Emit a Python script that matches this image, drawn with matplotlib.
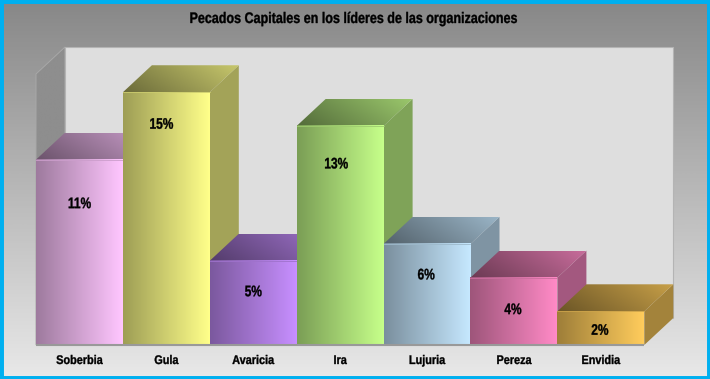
from matplotlib import pyplot as plt
from matplotlib.patches import Polygon
from matplotlib.colors import LinearSegmentedColormap, to_rgb
from matplotlib.patheffects import AbstractPathEffect
from matplotlib.transforms import Affine2D
import numpy as np

categories = ['Soberbia', 'Gula', 'Avaricia', 'Ira', 'Lujuria', 'Pereza', 'Envidia']
values = [11, 15, 5, 13, 6, 4, 2]
colors = ['#ffc6ff', '#ffff8a', '#c78fff', '#c6ff8a', '#c6e8ff', '#ff8ac6', '#ffcc5c']
title = 'Pecados Capitales en los líderes de las organizaciones'

# px per unit, the whole figure is one axes
W, H = 710, 379
x_px = 86.9
y_px = 16.85
x0, y0 = 36, 345
dx = 29 / x_px
dy = 27 / y_px
wall_top = (y0 - 47) / y_px - dy
label_drop = [44.5, 32.5, 31.5, 38.5, 31.5, 32.5, 19.5]
label_shift = [0, -5, 0, -4, -1, -1, -1]

plt.rcParams['font.family'] = ['Liberation Sans', 'DejaVu Sans']


class Narrow(AbstractPathEffect):
    # the original font is condensed, squeeze the glyphs around their middle
    def __init__(self, sx):
        super().__init__()
        self.sx = sx

    def draw_path(self, renderer, gc, tpath, affine, rgbFace=None):
        ext = tpath.get_extents()
        mid = (ext.x0 + ext.x1) / 2
        t = Affine2D().translate(-mid, 0).scale(self.sx, 1).translate(mid, 0)
        gc0 = renderer.new_gc()
        gc0.copy_properties(gc)
        gc0.set_linewidth(0.25)
        renderer.draw_path(gc0, tpath, t + affine, rgbFace)
        gc0.restore()


fig = plt.figure(figsize=(W / 100, H / 100), dpi=100)
ax = fig.add_axes([0, 0, 1, 1])
ax.set_xlim(-x0 / x_px, (W - x0) / x_px)
ax.set_ylim((y0 - H) / y_px, y0 / y_px)
ax.set_aspect('auto')
ax.axis('off')
xl, xr = ax.get_xlim()
yb, yt = ax.get_ylim()


def shade(c, f):
    return tuple(v * f for v in to_rgb(c))


def grad(c1, c2, extent, vertical=False, diag=False, clip=None, z=1):
    cm = LinearSegmentedColormap.from_list('g', [c1, c2])
    n = 64
    if diag:
        a, b = np.meshgrid(np.linspace(0, 1, n), np.linspace(0, 1, n))
        img = (a + b * 0.35) / 1.35
    elif vertical:
        img = np.linspace(0, 1, n).reshape(n, 1)
    else:
        img = np.linspace(0, 1, n).reshape(1, n)
    im = ax.imshow(img, extent=extent, cmap=cm, origin='lower', aspect='auto',
                   interpolation='bilinear', zorder=z, vmin=0, vmax=1)
    if clip is not None:
        p = Polygon(clip, closed=True, transform=ax.transData, fc='none', ec='none')
        ax.add_patch(p)
        im.set_clip_path(p)
    return im


# background, lighter to the bottom
grad('#e8e8e8', '#888888', [xl, xr, yb, yt], vertical=True, z=0)

n = len(values)
# left wall and back wall
left = [(0, 0), (dx, dy), (dx, wall_top + dy), (0, wall_top)]
grad('#8e8e8e', '#8e8e8e', [0, dx, 0, wall_top + dy], clip=left, z=1)
ax.add_patch(Polygon(left, closed=True, fc='none', ec='#a8a8a8', lw=0.7, zorder=1.1))
ax.add_patch(Polygon([(dx, dy), (n + dx, dy), (n + dx, wall_top + dy), (dx, wall_top + dy)],
                     closed=True, fc='#dedede', ec='#b4b4b4', lw=0.8, zorder=1.2))
# floor
ax.add_patch(Polygon([(0, 0), (n, 0), (n + dx, dy), (dx, dy)], closed=True,
                     fc='#dedede', ec='none', zorder=1.3))

for i, (v, c) in enumerate(zip(values, colors)):
    z = 2 + i
    # side face
    ax.add_patch(Polygon([(i + 1, 0), (i + 1 + dx, dy), (i + 1 + dx, v + dy), (i + 1, v)],
                         closed=True, fc=shade(c, 0.64), ec='none', zorder=z))
    # top face
    top = [(i, v), (i + dx, v + dy), (i + 1 + dx, v + dy), (i + 1, v)]
    grad(shade(c, 0.42), shade(c, 0.78), [i, i + 1 + dx, v, v + dy], diag=True, clip=top, z=z + 0.1)
    # front face
    grad(shade(c, 0.62), c, [i, i + 1, 0, v], z=z + 0.2)
    ax.plot([i, i + 1], [v, v], color=shade(c, 0.8), lw=0.6, zorder=z + 0.3)

ax.plot([0, n], [0, 0], color='#999999', lw=1.5, zorder=20, solid_capstyle='butt')

for i, (v, name) in enumerate(zip(values, categories)):
    ax.text(i + 0.5, -19 / y_px, name, ha='center', va='baseline', fontsize=9,
            fontweight='bold', color='black', zorder=30, path_effects=[Narrow(0.87)])
    ax.text(i + 0.5 + label_shift[i] / x_px, v - label_drop[i] / y_px, str(v) + '%', ha='center', va='center',
            fontsize=11, fontweight='bold', color='black', zorder=30, path_effects=[Narrow(0.78)])

ax.text((354 - x0) / x_px, (y0 - 19) / y_px, title, ha='center', va='center',
        fontsize=11, fontweight='bold', color='black', zorder=30, path_effects=[Narrow(0.82)])

# frame
ax.add_patch(plt.Rectangle((0, 0), 1, 1, transform=ax.transAxes, fc='none', ec='#00b0f0',
                           lw=5, zorder=40, clip_on=True))

fig.savefig('out.png', dpi=100)
